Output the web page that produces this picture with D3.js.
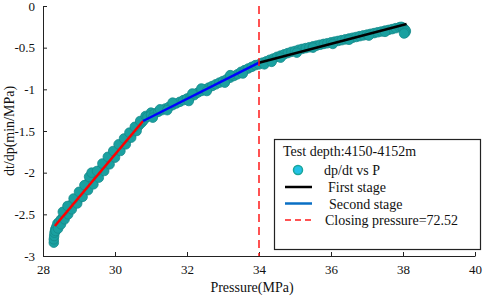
<!DOCTYPE html>
<html>
<head>
<meta charset="utf-8">
<script src="https://cdn.jsdelivr.net/npm/d3@7"></script>
<style>
  body { margin: 0; background: #fff; }
  text { font-family: "Liberation Serif", "Times New Roman", serif; fill: #111; }
</style>
</head>
<body>
<div id="chart"></div>
<script>
// pressure (MPa) and dt/dp readings of the scatter
const pressure = [
  28.30, 28.30, 28.31, 28.32, 28.34, 28.37, 28.40, 28.45, 28.50, 28.55, 28.60, 28.65, 28.70, 28.75, 28.80,
  28.85, 28.90, 28.95, 29.00, 29.05, 29.10, 29.15, 29.20, 29.25, 29.30, 29.35, 29.40, 29.45, 29.50, 29.55,
  29.60, 29.65, 29.70, 29.75, 29.80, 29.85, 29.90, 29.95, 30.00, 30.05, 30.10, 30.15, 30.20, 30.25, 30.30,
  30.35, 30.40, 30.45, 30.50, 30.55, 30.60, 30.65, 30.70, 30.75, 30.80,
  28.35, 28.42, 28.50, 28.60, 28.70, 28.80, 28.95, 29.10, 29.25, 29.40, 29.55, 29.70, 29.85, 30.00, 30.15,
  30.30, 30.45, 30.60,
  28.55, 28.68, 28.85, 29.00, 29.15, 29.28, 29.35, 29.50, 29.65, 29.80, 29.95, 30.10, 30.25, 30.40, 30.55,
  30.70, 30.85, 31.00,
  30.90, 31.00, 31.10, 31.20, 31.30, 31.40, 31.50, 31.60, 31.70, 31.80, 31.90, 32.00, 32.10, 32.20,
  32.30, 32.40, 32.50, 32.60, 32.70, 32.80, 32.90, 33.00, 33.10, 33.20, 33.30, 33.40, 33.50, 33.60, 33.70,
  33.80, 33.90, 34.00,
  31.05, 31.25, 31.45, 31.60, 32.05, 32.15, 32.40, 32.55, 33.05, 33.20, 33.55,
  34.10, 34.20, 34.30, 34.40, 34.50, 34.60, 34.70, 34.80, 34.90, 35.00, 35.10, 35.20, 35.30, 35.40, 35.50,
  35.60, 35.70, 35.80, 35.90, 36.00, 36.10, 36.20, 36.30, 36.40, 36.50, 36.60, 36.70, 36.80, 36.90, 37.00,
  37.10, 37.20, 37.30, 37.40, 37.50, 37.60, 37.70, 37.80, 37.90, 37.95, 38.00, 38.05, 38.08, 38.06, 38.03,
  34.15, 34.35, 34.60, 35.05, 35.50, 36.05, 36.50, 37.05, 37.50
];
const dtdp = [
  -2.84, -2.80, -2.76, -2.72, -2.68, -2.65, -2.61, -2.59, -2.56, -2.54, -2.51, -2.47, -2.43, -2.40, -2.38,
  -2.37, -2.35, -2.33, -2.31, -2.28, -2.24, -2.20, -2.16, -2.13, -2.10, -2.09, -2.08, -2.06, -2.03, -2.00,
  -1.97, -1.94, -1.91, -1.89, -1.86, -1.84, -1.81, -1.79, -1.76, -1.74, -1.71, -1.69, -1.66, -1.64, -1.61,
  -1.59, -1.56, -1.54, -1.51, -1.49, -1.46, -1.44, -1.415, -1.395, -1.37,
  -2.70, -2.67, -2.62, -2.56, -2.50, -2.44, -2.37, -2.29, -2.21, -2.14, -2.06, -1.98, -1.90, -1.82, -1.74,
  -1.66, -1.58, -1.50,
  -2.47, -2.40, -2.31, -2.23, -2.15, -2.05, -2.00, -1.98, -1.89, -1.81, -1.74, -1.66, -1.59, -1.52, -1.45,
  -1.38, -1.32, -1.28,
  -1.33, -1.31, -1.29, -1.27, -1.25, -1.23, -1.21, -1.19, -1.17, -1.15, -1.13, -1.11, -1.09, -1.07,
  -1.04, -1.02, -1.00, -0.98, -0.96, -0.94, -0.92, -0.90, -0.88, -0.86, -0.84, -0.82, -0.79, -0.77, -0.75,
  -0.73, -0.71, -0.70,
  -1.34, -1.24, -1.25, -1.16, -1.14, -1.05, -0.99, -1.02, -0.92, -0.83, -0.81,
  -0.680, -0.665, -0.645, -0.630, -0.610, -0.595, -0.580, -0.565, -0.550, -0.540, -0.525, -0.515, -0.505, -0.495, -0.485,
  -0.475, -0.465, -0.455, -0.447, -0.437, -0.428, -0.419, -0.410, -0.400, -0.390, -0.381, -0.372, -0.362, -0.353, -0.344,
  -0.334, -0.325, -0.315, -0.306, -0.296, -0.287, -0.277, -0.266, -0.255, -0.250, -0.260, -0.280, -0.300, -0.320, -0.330,
  -0.700, -0.670, -0.620, -0.560, -0.500, -0.455, -0.405, -0.355, -0.310
];

// fitted straight lines [P, dt/dp] end points
const fitEarly = [[28.33, -2.64], [30.78, -1.38]];
const fitSecond = [[30.78, -1.38], [34.0, -0.68]];
const fitFirst = [[34.0, -0.68], [38.1, -0.216]];
const closingP = 34;

const xTicks = [28, 30, 32, 34, 36, 38, 40];
const yTicks = [0, -0.5, -1, -1.5, -2, -2.5, -3];
const legendTitle = "Test depth:4150-4152m";
const legendLabels = ["dp/dt vs P", "First stage", "Second stage", "Closing pressure=72.52"];

const width = 484, height = 298;
const margin = ({top: 6, right: 9, bottom: 42, left: 43});

const x = d3.scaleLinear()
  .domain([28, 40])
  .range([margin.left, width - margin.right]);
const y = d3.scaleLinear()
  .domain([-3, 0])
  .range([height - margin.bottom, margin.top]);

const svg = d3.select("#chart").append("svg")
  .attr("width", width).attr("height", height);

// axes, ticks pointing inward
const xAxis = d3.axisBottom(x).tickValues(xTicks).tickSizeInner(-4).tickSizeOuter(0).tickPadding(9);
const yAxis = d3.axisLeft(y).tickValues(yTicks).tickSizeInner(-4).tickSizeOuter(0).tickPadding(8)
  .tickFormat(d => d === 0 ? "0" : String(d));

const gx = svg.append("g")
  .attr("transform", `translate(0,${height - margin.bottom})`)
  .call(xAxis);
const gy = svg.append("g")
  .attr("transform", `translate(${margin.left},0)`)
  .call(yAxis);
[gx, gy].forEach(g => {
  g.select(".domain").attr("stroke", "#222");
  g.selectAll(".tick line").attr("stroke", "#222");
  g.selectAll(".tick text").attr("font-size", 13).attr("fill", "#111");
});

svg.append("text")
  .attr("x", (x(28) + x(40)) / 2 - 7)
  .attr("y", 292)
  .attr("text-anchor", "middle")
  .attr("font-size", 14)
  .text("Pressure(MPa)");

svg.append("text")
  .attr("transform", `translate(14,${(y(0) + y(-3)) / 2}) rotate(-90)`)
  .attr("text-anchor", "middle")
  .attr("font-size", 14)
  .text("dt/dp(min/MPa)");

// scatter
svg.append("g")
  .selectAll("circle")
  .data(d3.range(pressure.length))
  .join("circle")
  .attr("cx", i => x(pressure[i]))
  .attr("cy", i => y(dtdp[i]))
  .attr("r", 4.8)
  .attr("fill", "#1aa0a0")
  .attr("stroke", "#158a8a")
  .attr("stroke-width", 0.8);

const line = d3.line().x(d => x(d[0])).y(d => y(d[1]));
svg.append("path").attr("d", line(fitEarly))
  .attr("fill", "none").attr("stroke", "#ff0000").attr("stroke-width", 2.5);
svg.append("path").attr("d", line(fitSecond))
  .attr("fill", "none").attr("stroke", "#0000ff").attr("stroke-width", 2.5);
svg.append("path").attr("d", line(fitFirst))
  .attr("fill", "none").attr("stroke", "#000").attr("stroke-width", 2.5);

svg.append("line")
  .attr("x1", x(closingP)).attr("x2", x(closingP))
  .attr("y1", y(0)).attr("y2", y(-3))
  .attr("stroke", "#ff1a1a").attr("stroke-width", 1.5)
  .attr("stroke-dasharray", "8,5");

// legend
const lg = svg.append("g");
lg.append("rect")
  .attr("x", 274.5).attr("y", 139.5)
  .attr("width", 206).attr("height", 110)
  .attr("fill", "#fff").attr("stroke", "#222").attr("stroke-width", 1.2);
lg.append("text")
  .attr("x", 283).attr("y", 156)
  .attr("font-size", 14)
  .text(legendTitle);

const rows = [170, 187, 203.5, 220];
const textX = [324, 328, 329, 325];
lg.append("circle")
  .attr("cx", 298).attr("cy", rows[0]).attr("r", 4.5)
  .attr("fill", "#22c2e6").attr("stroke", "#1aa59a").attr("stroke-width", 1.5);
lg.append("line")
  .attr("x1", 285).attr("x2", 312).attr("y1", rows[1]).attr("y2", rows[1])
  .attr("stroke", "#000").attr("stroke-width", 2.5);
lg.append("line")
  .attr("x1", 285).attr("x2", 312).attr("y1", rows[2]).attr("y2", rows[2])
  .attr("stroke", "#0a6fc4").attr("stroke-width", 2.5);
lg.append("line")
  .attr("x1", 285).attr("x2", 312).attr("y1", rows[3]).attr("y2", rows[3])
  .attr("stroke", "#ff1a1a").attr("stroke-width", 1.5).attr("stroke-dasharray", "6,4");

legendLabels.forEach((t, i) => {
  lg.append("text")
    .attr("x", textX[i]).attr("y", rows[i] + 5)
    .attr("font-size", 14)
    .text(t);
});
</script>
</body>
</html>
